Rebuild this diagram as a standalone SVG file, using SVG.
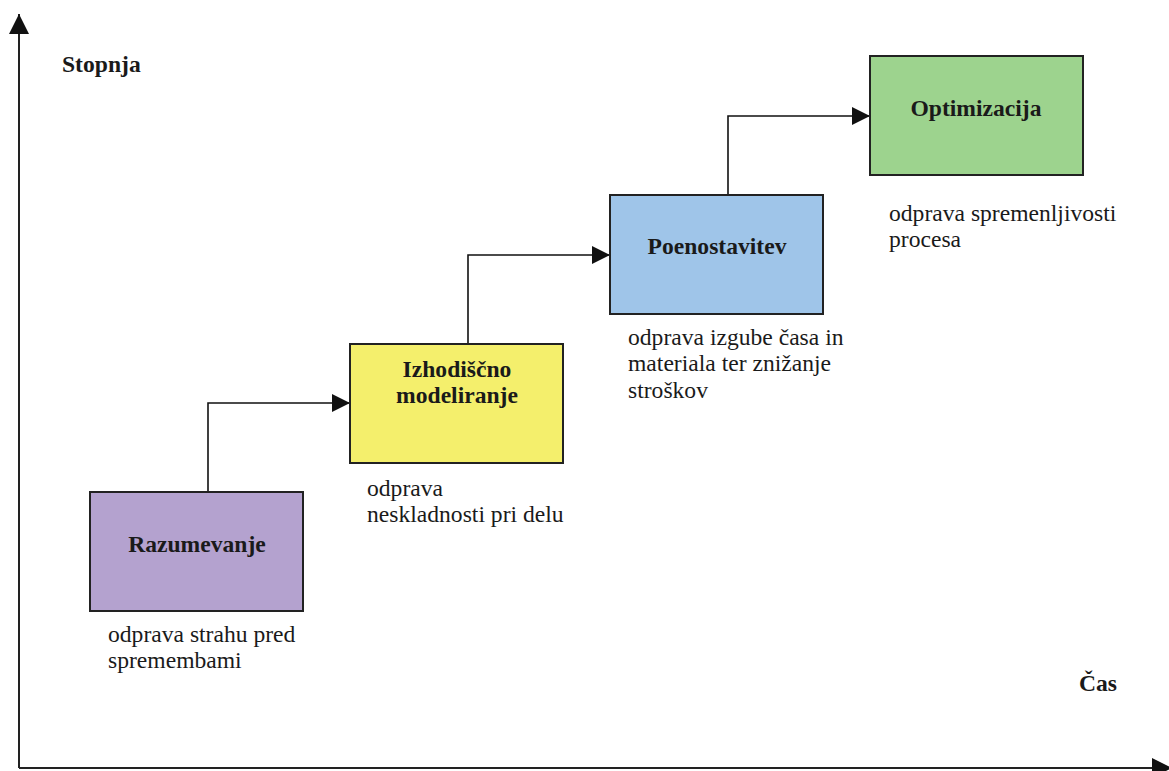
<svg xmlns="http://www.w3.org/2000/svg" width="1169" height="771" viewBox="0 0 1169 771">
  <defs>
    <marker id="arrow" markerWidth="18" markerHeight="18" refX="18" refY="9" orient="auto" markerUnits="userSpaceOnUse">
      <path d="M0,0 L18,9 L0,18 Z" fill="#111"/>
    </marker>
    <marker id="axis-arrow" markerWidth="20" markerHeight="20" refX="20" refY="10" orient="auto" markerUnits="userSpaceOnUse">
      <path d="M0,0 L20,10 L0,20 Z" fill="#111"/>
    </marker>
  </defs>
  <style>
    text { font-family: 'Liberation Serif', 'DejaVu Serif', serif; fill: #1a1a1a; font-size: 23.6px; }
    .box { stroke: #222; stroke-width: 2; }
    .title { font-weight: bold; text-anchor: middle; }
    .axis-label { font-weight: bold; }
    .link { fill: none; stroke: #111; stroke-width: 1.6; }
    .axis { fill: none; stroke: #222; stroke-width: 2; }
  </style>
  <rect width="1169" height="771" fill="#fff"/>

  <!-- axes -->
  <g id="axes">
    <path class="axis" d="M19,768 L19,14" marker-end="url(#axis-arrow)"/>
    <path class="axis" d="M19,768 L1172,768" marker-end="url(#axis-arrow)"/>
    <text class="axis-label" x="62" y="72">Stopnja</text>
    <text class="axis-label" x="1079" y="691">Čas</text>
  </g>

  <!-- connectors -->
  <g id="connectors">
    <path class="link" d="M208,492 L208,403 L350,403" marker-end="url(#arrow)"/>
    <path class="link" d="M468,344 L468,255 L610,255" marker-end="url(#arrow)"/>
    <path class="link" d="M728,205 L728,116 L870,116" marker-end="url(#arrow)"/>
  </g>

  <g id="razumevanje">
    <rect class="box" x="90" y="492" width="213" height="119" fill="#b4a2cf"/>
    <text class="title" x="197" y="552">Razumevanje</text>
    <text class="note" x="108" y="642">odprava strahu pred</text>
    <text class="note" x="108" y="668">spremembami</text>
  </g>

  <g id="izhodiscno-modeliranje">
    <rect class="box" x="350" y="344" width="213" height="119" fill="#f4ef6c"/>
    <text class="title" x="457" y="377">Izhodiščno</text>
    <text class="title" x="457" y="403">modeliranje</text>
    <text class="note" x="367" y="496">odprava</text>
    <text class="note" x="367" y="522">neskladnosti pri delu</text>
  </g>

  <g id="poenostavitev">
    <rect class="box" x="610" y="195" width="213" height="119" fill="#9fc5e9"/>
    <text class="title" x="717" y="254">Poenostavitev</text>
    <text class="note" x="628" y="345">odprava izgube časa in</text>
    <text class="note" x="628" y="371">materiala ter znižanje</text>
    <text class="note" x="628" y="398">stroškov</text>
  </g>

  <g id="optimizacija">
    <rect class="box" x="870" y="56" width="213" height="119" fill="#9dd38e"/>
    <text class="title" x="976" y="116">Optimizacija</text>
    <text class="note" x="889" y="221">odprava spremenljivosti</text>
    <text class="note" x="889" y="247">procesa</text>
  </g>
</svg>
